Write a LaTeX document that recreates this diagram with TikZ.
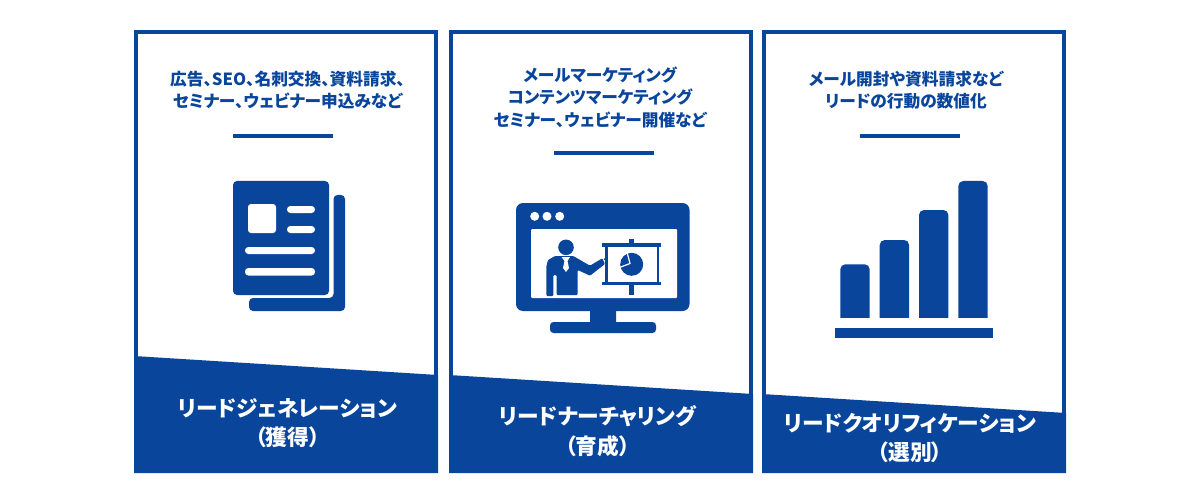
\documentclass[tikz,border=0pt]{standalone}
\usepackage{fontspec}
\setmainfont[RawFeature=+palt]{Noto Sans CJK JP}
\usetikzlibrary{positioning}
\definecolor{leadblue}{HTML}{0A459C}
\tikzstyle{card}=[draw=leadblue,line width=4pt,fill=white]
\tikzstyle{band}=[fill=leadblue]
\tikzstyle{icon}=[fill=leadblue,draw=none]
\tikzstyle{cut}=[fill=white,draw=none]
\tikzstyle{note}=[text=leadblue,align=center,inner sep=0pt,font=\fontsize{16.7}{22.5}\selectfont\bfseries]
\tikzstyle{heading}=[text=white,align=center,inner sep=0pt,font=\fontsize{21.7}{29.5}\selectfont\bfseries]
\begin{document}
\begin{tikzpicture}[x=1pt,y=-1pt]
\useasboundingbox (0,0) rectangle (1200,500);
% cards
\draw[card] (136,32) rectangle (436,471);
\draw[card] (451,32) rectangle (751,471);
\draw[card] (764,32) rectangle (1064,471);
\fill[band] (134,356) -- (438,375) -- (438,473) -- (134,473) -- cycle;
\fill[band] (449,375) -- (753,394) -- (753,473) -- (449,473) -- cycle;
\fill[band] (762,394) -- (1066,413) -- (1066,473) -- (762,473) -- cycle;
% texts
\node[note] (note1) at (287.5,90) {広告、SEO、名刺交換、資料請求、\\セミナー、ウェビナー申込みなど};
\node[note] (note2) at (600,97) {メールマーケティング\\コンテンツマーケティング\\セミナー、ウェビナー開催など};
\node[note] (note3) at (906,90) {メール開封や資料請求など\\リードの行動の数値化};
\node[heading] (head1) at (287.5,423) {リードジェネレーション\\（獲得）};
\node[heading] (head2) at (597.5,431) {リードナーチャリング\\（育成）};
\node[heading] (head3) at (910,438) {リードクオリフィケーション\\（選別）};
% dividers
\fill[icon] (233,134) rectangle (333,138);
\fill[icon] (554,151) rectangle (654,155);
\fill[icon] (860,134) rectangle (960,138);
% papers
\fill[icon,rounded corners=4pt] (333.5,298) -- (333.5,195) -- (345,195) -- (345,311) -- (249,311) -- (249,298) -- cycle;
\fill[icon,rounded corners=4pt] (233,181) rectangle (329,295);
\fill[cut,rounded corners=3pt] (248,204) rectangle (276,233);
\fill[cut,rounded corners=3.4pt] (287,206) rectangle (315,213);
\fill[cut,rounded corners=3.4pt] (287,226) rectangle (315,233);
\fill[cut,rounded corners=3.4pt] (245,247) rectangle (315,254);
\fill[cut,rounded corners=3.4pt] (245,268) rectangle (315,275.5);
% monitor
\fill[icon,rounded corners=3pt] (590,308) rectangle (616,325);
\fill[icon,rounded corners=3.5pt] (550,322) rectangle (656,333);
\fill[icon,rounded corners=7pt] (516,203) rectangle (689.5,311);
\fill[cut,rounded corners=1pt] (531,229) rectangle (677,298);
\foreach \dotx in {534.7,547,559.7}
  \fill[cut] (\dotx,216.3) circle (4.5);
% presenter
\fill[icon] (566,247.3) circle (7.8);
\fill[icon,rounded corners=1pt] (555,256) -- (573.3,256) -- (590,265.7) -- (602.3,258.3) -- (605,264) -- (590,275.7) -- (577.7,270) -- (577.7,295) -- (556.7,295) -- (556.7,275) -- (553.3,275) -- (553.3,296) -- (546.3,296) -- (546.3,266.7) -- (548,260) -- cycle;
\fill[cut] (561.5,257) -- (570,257) -- (567.5,261) -- (569,268) -- (566,272) -- (563,268) -- (564.5,261) -- cycle;
\draw[leadblue,line width=1.2pt] (604,259.5) -- (614,252.7);
% screen board
\fill[icon] (629,239) rectangle (633.5,295);
\fill[icon] (602,243.3) rectangle (661,247.3);
\fill[icon] (602,281.7) rectangle (661,285);
\fill[icon] (605,245) rectangle (607.5,284);
\fill[icon] (656.5,245) rectangle (659,284);
\fill[cut] (607.5,247.3) rectangle (656.5,281.7);
\fill[icon] (631.7,264.3) circle (11.5);
\draw[white,line width=1.2pt] (627,252) -- (630,263.5) -- (619.5,267.5);
% bars
\foreach \barx/\bartop in {840.3/264.3,879.7/240,919/210,958.3/181}
  \fill[icon,rounded corners=5pt] (\barx,325) -- (\barx,\bartop) -- (\barx+29.4,\bartop) -- (\barx+29.4,325) -- cycle;
\fill[cut] (835,318.3) rectangle (993,328.3);
\fill[icon] (835,328.3) rectangle (992.7,338.3);
\end{tikzpicture}
\end{document}
